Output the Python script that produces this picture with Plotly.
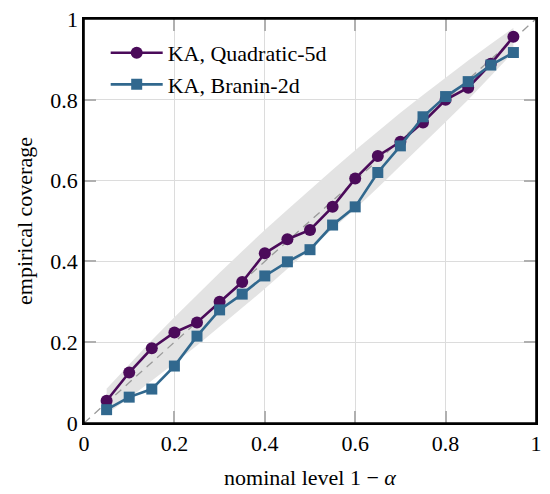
import plotly.graph_objects as go

# nominal levels 1 - alpha
nominal = [0.05, 0.10, 0.15, 0.20, 0.25, 0.30, 0.35, 0.40, 0.45, 0.50,
           0.55, 0.60, 0.65, 0.70, 0.75, 0.80, 0.85, 0.90, 0.95]

# empirical coverage per benchmark
quadratic_5d = [0.055, 0.125, 0.185, 0.224, 0.249, 0.300, 0.349, 0.420, 0.455, 0.478,
                0.535, 0.605, 0.661, 0.696, 0.744, 0.800, 0.830, 0.889, 0.956]
branin_2d = [0.033, 0.064, 0.084, 0.141, 0.215, 0.280, 0.319, 0.364, 0.399, 0.429,
             0.490, 0.535, 0.620, 0.686, 0.758, 0.808, 0.845, 0.886, 0.917]

# grey acceptance band around the diagonal
band_upper = [0.085, 0.145, 0.205, 0.262, 0.318, 0.372, 0.425, 0.478, 0.528, 0.578,
              0.627, 0.675, 0.722, 0.768, 0.812, 0.855, 0.897, 0.938, 0.978]
band_lower = [0.022, 0.062, 0.105, 0.148, 0.192, 0.238, 0.285, 0.332, 0.380, 0.430,
              0.480, 0.530, 0.582, 0.635, 0.690, 0.745, 0.800, 0.858, 0.918]

tick_vals = [0, 0.2, 0.4, 0.6, 0.8, 1]
tick_text = ["0", "0.2", "0.4", "0.6", "0.8", "1"]

purple = "#4b0b5a"
blue = "#31688e"
font_name = "Liberation Serif"

fig = go.Figure()

fig.add_trace(go.Scatter(
    x=nominal + nominal[::-1],
    y=band_upper + band_lower[::-1],
    fill="toself",
    fillcolor="#e3e3e3",
    line=dict(width=0),
    mode="lines",
    hoverinfo="skip",
    showlegend=False,
))

fig.add_trace(go.Scatter(
    x=[0, 1], y=[0, 1],
    mode="lines",
    line=dict(color="#9a9a9a", width=1.3, dash="8px,6px"),
    showlegend=False,
))

fig.add_trace(go.Scatter(
    x=nominal, y=quadratic_5d,
    mode="lines+markers",
    name="KA, Quadratic-5d",
    line=dict(color=purple, width=2.6),
    marker=dict(symbol="circle", size=12, color=purple),
))

fig.add_trace(go.Scatter(
    x=nominal, y=branin_2d,
    mode="lines+markers",
    name="KA, Branin-2d",
    line=dict(color=blue, width=2.6),
    marker=dict(symbol="square", size=11, color=blue),
))

axis_style = dict(
    range=[0, 1],
    tickvals=tick_vals,
    ticktext=tick_text,
    showgrid=True,
    gridcolor="#dcdcdc",
    gridwidth=1.2,
    zeroline=False,
    showline=True,
    linecolor="black",
    linewidth=1.6,
    mirror="ticks",
    ticks="inside",
    ticklen=12,
    tickwidth=1.5,
    tickcolor="#b0b0b0",
    automargin=False,
    tickfont=dict(family=font_name, size=22, color="black"),
)

fig.update_xaxes(**axis_style,
                 title=dict(text="nominal level 1 − <i>α</i>",
                            font=dict(family=font_name, size=22, color="black"),
                            standoff=14))
fig.update_yaxes(**axis_style,
                 title=dict(text="empirical coverage",
                            font=dict(family=font_name, size=22, color="black"),
                            standoff=12))

# black frame round the plot area
fig.add_shape(type="rect", xref="paper", yref="paper",
              x0=0, x1=1, y0=0, y1=1,
              line=dict(color="black", width=1.6), layer="above")

# top y label gets cut by plotly (too close to the div edge), so put it back by hand
fig.add_annotation(x=0, y=1, xref="paper", yref="paper",
                   text=tick_text[-1], showarrow=False,
                   xanchor="right", yanchor="middle", xshift=-4,
                   font=dict(family=font_name, size=22, color="black"))

# page body has an 8px margin, so the figure is a little smaller than the window
fig.update_layout(
    width=542,
    height=486,
    margin=dict(l=76, r=14, t=11, b=71),
    plot_bgcolor="white",
    paper_bgcolor="white",
    font=dict(family=font_name, size=22, color="black"),
    legend=dict(
        x=0.048, y=0.968,
        xanchor="left", yanchor="top",
        bgcolor="rgba(255,255,255,0)",
        itemwidth=52,
        font=dict(family=font_name, size=22, color="black"),
        tracegroupgap=1,
    ),
)

fig.write_html("out.html")
